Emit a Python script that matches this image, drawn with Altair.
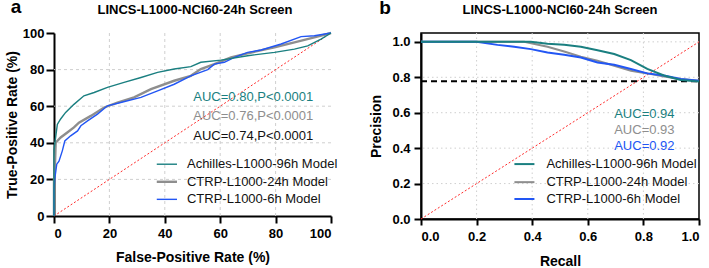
import altair as alt
import pandas as pd

FONT = "Liberation Sans"
TEAL = "#1a7f80"
GRAY = "#8e8e8e"
BLUE = "#2256f4"
RED = "#ff2a2a"

TITLE = "LINCS-L1000-NCI60-24h Screen"
series_names = ["Achilles-L1000-96h Model", "CTRP-L1000-24h Model", "CTRP-L1000-6h Model"]
series_colors = [TEAL, GRAY, BLUE]

# ---- panel a: ROC (FPR %, TPR %) ----
roc_teal_x = [0, 0, 0.25, 1.2, 2.4, 4.2, 7.2, 10.8, 14.5, 19.3, 25.3, 31.4, 37.4, 43.4, 49.4,
              53, 60.3, 69.9, 79.6, 86.8, 91.6, 96.4, 100]
roc_teal_y = [0, 36, 39, 50, 53, 56.6, 61, 65.7, 67.5, 70.3, 73, 75.7, 78.5, 80.3, 81.6,
              84, 85.2, 87.6, 89.4, 91.2, 93, 96.7, 100]
roc_gray_x = [0, 0, 0.25, 0.6, 2.4, 4.8, 7.2, 9, 13.3, 18.1, 22.9, 28.9, 35, 43.4, 49.4,
              53, 57.9, 63.9, 69.9, 79.6, 86.8, 94, 100]
roc_gray_y = [0, 20, 22.8, 40, 42.9, 45.6, 48.4, 51, 54.7, 59.3, 62, 64.8, 69.3, 73.9, 76.6,
              80.3, 83, 86.7, 88.9, 92.2, 94.9, 97.6, 100]
roc_blue_x = [0, 0, 0.25, 1, 1.8, 3, 3.9, 6, 8.5, 9.7, 12.1, 15.7, 19.3, 24.1, 31.4, 37.4,
              43.4, 49.4, 55.5, 57.9, 61.5, 65.1, 69.9, 74.8, 82, 89.2, 94, 100]
roc_blue_y = [0, 14, 20, 28.3, 30, 35.6, 41, 43.8, 46.5, 49.3, 52, 55.7, 60.2, 62, 64.8, 68.4,
              72, 76.6, 80, 83, 84, 86.7, 89.4, 90.7, 94, 98, 98.5, 100]

roc_auc_texts = ["AUC=0.80,P<0.0001", "AUC=0.76,P<0.0001", "AUC=0.74,P<0.0001"]
roc_auc_colors = [TEAL, GRAY, "#111111"]
roc_auc_y = [65.1, 54.6, 43.6]

# ---- panel b: Precision-Recall ----
pr_teal_x = [0, 0.395, 0.455, 0.515, 0.575, 0.635, 0.695, 0.755, 0.814, 0.874, 0.934, 1.0]
pr_teal_y = [1.0, 1.0, 0.99, 0.983, 0.972, 0.953, 0.931, 0.897, 0.847, 0.81, 0.785, 0.776]
pr_gray_x = [0, 0.371, 0.455, 0.515, 0.575, 0.635, 0.695, 0.755, 0.814, 0.874, 0.934, 1.0]
pr_gray_y = [1.0, 1.0, 0.972, 0.946, 0.916, 0.893, 0.865, 0.837, 0.822, 0.804, 0.79, 0.781]
pr_blue_x = [0, 0.2, 0.275, 0.335, 0.395, 0.455, 0.515, 0.575, 0.635, 0.695, 0.755, 0.814,
             0.874, 0.934, 1.0]
pr_blue_y = [1.0, 1.0, 0.983, 0.972, 0.959, 0.94, 0.927, 0.912, 0.884, 0.871, 0.847, 0.822,
             0.81, 0.79, 0.781]
pr_baseline = 0.777

pr_auc_texts = ["AUC=0.94", "AUC=0.93", "AUC=0.92"]
pr_auc_colors = [TEAL, GRAY, BLUE]
pr_auc_y = [0.591, 0.501, 0.412]

roc_ticks = [0, 20, 40, 60, 80, 100]
roc_grid = [20, 40, 60, 80]
pr_ticks = [0, 0.2, 0.4, 0.6, 0.8, 1.0]
pr_grid_x = [0.2, 0.4, 0.6, 0.8]
pr_grid_y = [0.2, 0.4, 0.6, 0.8, 1.0]


def series_df(xs_list, ys_list):
    rows = []
    for name, xs, ys in zip(series_names, xs_list, ys_list):
        for i, (x, y) in enumerate(zip(xs, ys)):
            rows.append({"series": name, "x": x, "y": y, "i": i})
    return pd.DataFrame(rows)


color_scale = alt.Scale(domain=series_names, range=series_colors)


def axis(fmt, values, title, tick, lpad, tpad):
    kw = dict(values=values, title=title, grid=False, domainColor="black", domainWidth=2,
              tickColor="black", tickWidth=2, tickSize=tick, labelFont=FONT, labelFontSize=13,
              labelFontWeight="bold", labelColor="black", labelPadding=lpad,
              titleFont=FONT, titleFontSize=14, titleFontWeight="bold", titleColor="black",
              titlePadding=tpad)
    if fmt:
        kw["format"] = fmt
    return alt.Axis(**kw)


def panel(xs_list, ys_list, xdom, ydom, ticks, fmt, xtitle, ytitle, grid_x, grid_y, grid_dash,
          diag, auc_texts, auc_colors, auc_y, auc_x, leg_x1, leg_x2, leg_tx, leg_y, letter,
          letter_pos, title_pos, yax, xax, baseline=None, widths=(1.6, 2.2, 1.6)):
    xs = alt.Scale(domain=xdom, nice=False, zero=False)
    ys = alt.Scale(domain=ydom, nice=False, zero=False)
    X = lambda f: alt.X(f, type="quantitative", scale=xs, axis=axis(fmt, ticks, xtitle, *xax))
    Y = lambda f: alt.Y(f, type="quantitative", scale=ys, axis=axis(fmt, ticks, ytitle, *yax))

    gx = alt.Chart(pd.DataFrame({"x": grid_x})).mark_rule(
        color="#cfcfcf", strokeWidth=1, strokeDash=grid_dash).encode(x=X("x:Q"))
    gy = alt.Chart(pd.DataFrame({"y": grid_y})).mark_rule(
        color="#cfcfcf", strokeWidth=1, strokeDash=grid_dash).encode(y=Y("y:Q"))
    dg = alt.Chart(pd.DataFrame({"x": diag, "y": diag})).mark_line(
        color=RED, strokeWidth=1, strokeDash=[2, 2]).encode(x=X("x:Q"), y=Y("y:Q"))

    df = series_df(xs_list, ys_list)
    lines = []
    for name, w in zip(series_names, widths):
        lines.append(alt.Chart(df[df.series == name]).mark_line(
            strokeWidth=w, interpolate="linear").encode(
            x=X("x:Q"), y=Y("y:Q"), order="i:Q",
            color=alt.Color("series:N", scale=color_scale, legend=None)))
    lines = [lines[1], lines[2], lines[0]]

    layers = [gx, gy, dg]
    if baseline is not None:
        bl = alt.Chart(pd.DataFrame({"x": [xdom[0]], "x2": [xdom[1]], "y": [baseline]})).mark_rule(
            color="black", strokeWidth=2, strokeDash=[6, 4]).encode(
            x=X("x:Q"), x2="x2:Q", y=Y("y:Q"))
        layers.append(bl)
    layers += lines

    auc = alt.Chart(pd.DataFrame({"t": auc_texts, "c": auc_colors, "y": auc_y,
                                  "x": [auc_x] * 3})).mark_text(
        align="right", baseline="middle", font=FONT, fontSize=13).encode(
        x=X("x:Q"), y=Y("y:Q"), text="t:N", color=alt.Color("c:N", scale=None))
    layers.append(auc)

    leg = pd.DataFrame({"series": series_names, "x1": [leg_x1] * 3, "x2": [leg_x2] * 3,
                        "tx": [leg_tx] * 3, "y": leg_y, "w": list(widths)})
    legl = alt.Chart(leg).mark_rule().encode(
        x=X("x1:Q"), x2="x2:Q", y=Y("y:Q"),
        color=alt.Color("series:N", scale=color_scale, legend=None),
        strokeWidth=alt.StrokeWidth("w:Q", scale=None))
    legt = alt.Chart(leg).mark_text(align="left", baseline="middle", font=FONT,
                                    fontSize=13, color="#111111").encode(
        x=X("tx:Q"), y=Y("y:Q"), text="series:N")
    layers += [legl, legt]

    let = alt.Chart(pd.DataFrame({"t": [letter]})).mark_text(
        align="center", baseline="alphabetic", font=FONT, fontSize=19, fontWeight="bold",
        color="black").encode(x=alt.value(letter_pos[0]), y=alt.value(letter_pos[1]), text="t:N")
    ttl = alt.Chart(pd.DataFrame({"t": [TITLE]})).mark_text(
        align="center", baseline="alphabetic", font=FONT, fontSize=13, fontWeight="bold",
        color="black").encode(x=alt.value(title_pos[0]), y=alt.value(title_pos[1]), text="t:N")
    layers += [let, ttl]
    return alt.layer(*layers)


left = panel([roc_teal_x, roc_gray_x, roc_blue_x], [roc_teal_y, roc_gray_y, roc_blue_y],
             [0, 100], [0, 100], roc_ticks, None, "False-Positive Rate (%)", "True-Positive Rate (%)",
             roc_grid, roc_grid, [3, 3], [0, 100], roc_auc_texts, roc_auc_colors, roc_auc_y, 93.6,
             37.1, 44.4, 48.0, [28.3, 18.7, 9.1], "a", (-38, -20), (141, -19),
             (8, 2, 3), (7, 4, 10), widths=(1.4, 2.4, 1.4)).properties(
    width=277, height=183,
    view=alt.ViewBackground(strokeOpacity=0))

right = panel([pr_teal_x, pr_gray_x, pr_blue_x], [pr_teal_y, pr_gray_y, pr_blue_y],
              [0, 1], [0, 1.05], pr_ticks, ".1f", "Recall", "Precision",
              pr_grid_x, pr_grid_y, [1.5, 3], [0, 1], pr_auc_texts, pr_auc_colors, pr_auc_y, 0.912,
              0.336, 0.408, 0.451, [0.31, 0.208, 0.113], "b", (-36, -19), (139, -19),
              (7, 4, 8), (6, 5, 11), baseline=pr_baseline, widths=(2.0, 2.0, 2.0)).properties(
    width=278, height=186,
    view=alt.ViewBackground(stroke="black", strokeWidth=1.5))

chart = alt.hconcat(left, right, spacing=31).properties(
    padding={"left": 5, "top": -2, "right": 0, "bottom": 0})

chart.save("out.html", embed_options={"renderer": "svg", "actions": False})
